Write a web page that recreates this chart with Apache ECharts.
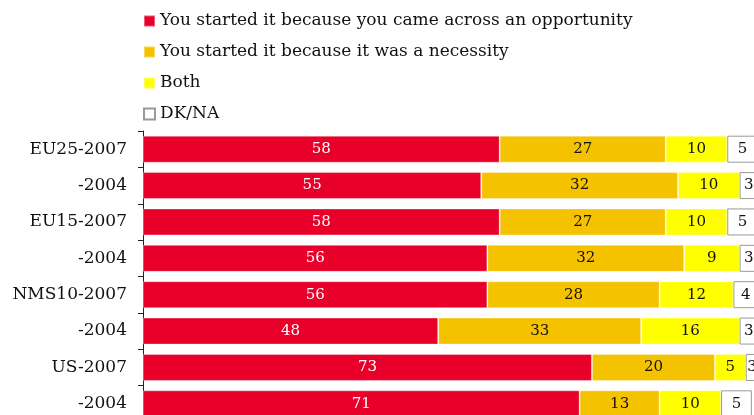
<!DOCTYPE html>
<html><head><meta charset="utf-8">
<script src="https://cdn.jsdelivr.net/npm/echarts@6/dist/echarts.min.js"></script>
<style>html,body{margin:0;padding:0;background:#fff}#c{width:754px;height:415px}</style>
</head><body><div id="c"></div>
<script>
const categories = ["EU25-2007","-2004","EU15-2007","-2004","NMS10-2007","-2004","US-2007","-2004"];
const seriesNames = ["You started it because you came across an opportunity","You started it because it was a necessity","Both","DK/NA"];
const opportunity = [58,55,58,56,56,48,73,71];
const necessity = [27,32,27,32,28,33,20,13];
const both = [10,10,10,9,12,16,5,10];
const dkna = [5,3,5,3,4,3,3,5];

const font = "DejaVu Serif";
const colors = ["#e8002b","#f5c200","#ffff00","#ffffff"];
const labelColors = ["#ffffff","#111","#111","#111"];
const values = [opportunity, necessity, both, dkna];

const chart = echarts.init(document.getElementById('c'), null, {renderer:'canvas'});
chart.setOption({
  animation:false,
  legend:{
    orient:'vertical', left:143, top:11, padding:0,
    itemWidth:11, itemHeight:11, itemGap:11, icon:'rect',
    textStyle:{fontFamily:font, fontSize:17, color:'#111', lineHeight:20},
    data: seriesNames
  },
  grid:{left:143, top:131, width:615, height:291, containLabel:false, outerBoundsMode:'none'},
  xAxis:{type:'value', min:0, max:100, show:false},
  yAxis:{type:'category', inverse:true, data:categories,
    axisLine:{show:true, lineStyle:{color:'#222', width:1}},
    axisTick:{show:true, length:5, lineStyle:{color:'#222'}},
    axisLabel:{fontFamily:font, fontSize:17, color:'#111', margin:16}
  },
  series: seriesNames.map((n,i)=>({
    name:n, type:'bar', stack:'s', barWidth:27, data: values[i],
    itemStyle:{color:colors[i], borderColor: i===3 ? '#999' : 'rgba(255,255,255,0.35)', borderWidth: 1},
    label:{show:true, position:'inside', color:labelColors[i], fontFamily:font, fontSize:15},
    emphasis:{disabled:true}
  }))
});
</script></body></html>
